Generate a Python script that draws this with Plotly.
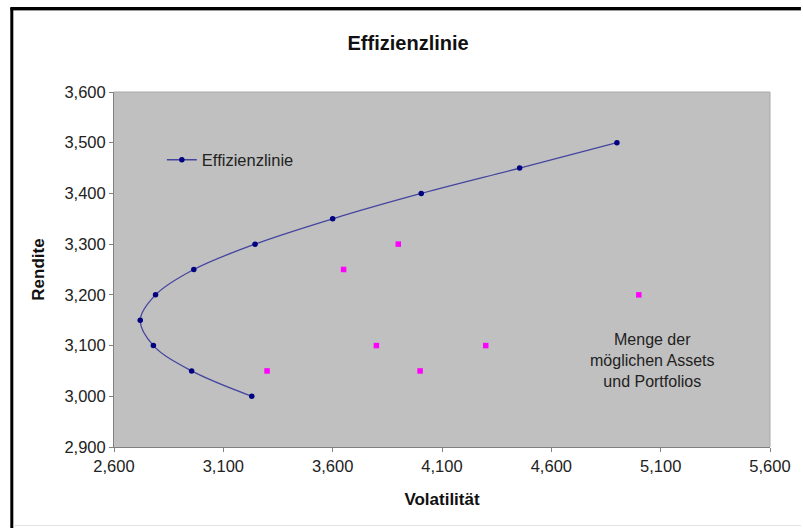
import plotly.graph_objects as go

# Efficient frontier (Volatilität, Rendite)
frontier_vol = [3.23, 2.955, 2.78, 2.72, 2.79, 2.965, 3.245, 3.60, 4.005, 4.455, 4.90]
frontier_ret = [3.00, 3.05, 3.10, 3.15, 3.20, 3.25, 3.30, 3.35, 3.40, 3.45, 3.50]

# Possible assets / portfolios
assets_vol = [3.30, 3.65, 3.90, 3.80, 4.00, 4.30, 5.00]
assets_ret = [3.05, 3.25, 3.30, 3.10, 3.05, 3.10, 3.20]

x_ticks = [2.6, 3.1, 3.6, 4.1, 4.6, 5.1, 5.6]
y_ticks = [2.9, 3.0, 3.1, 3.2, 3.3, 3.4, 3.5, 3.6]

FONT = "Liberation Sans, Arial, sans-serif"

fig = go.Figure()
fig.add_trace(go.Scatter(
    x=frontier_vol, y=frontier_ret, name="Effizienzlinie",
    mode="lines+markers",
    line=dict(color="#4545a0", width=1.3, shape="spline", smoothing=1.0),
    marker=dict(color="#000080", size=5.5, symbol="circle"),
))
fig.add_trace(go.Scatter(
    x=assets_vol, y=assets_ret, name="Assets", showlegend=False,
    mode="markers",
    marker=dict(color="#ff00ff", size=5.5, symbol="square"),
))

W, H = 803, 528
L, R, T, B = 114, 31, 92, 81
pw, ph = W - L - R, H - T - B


def px(x):
    return (x - L) / pw


def py(y):
    return (H - B - y) / ph


fig.update_layout(
    width=W, height=H,
    margin=dict(l=L, r=R, t=T, b=B),
    paper_bgcolor="white",
    plot_bgcolor="#c0c0c0",
    separators=",.",
    font=dict(family=FONT, size=16, color="#222222"),
    title=dict(text="<b>Effizienzlinie</b>", xref="paper", x=px(409), xanchor="center",
               yref="container", y=1 - 43 / H, yanchor="middle",
               font=dict(size=20, color="#111111", family=FONT)),
    showlegend=True,
    legend=dict(x=px(162), y=py(160), xanchor="left", yanchor="middle",
                bgcolor="rgba(0,0,0,0)", borderwidth=0,
                font=dict(size=16.5, color="#222222", family=FONT)),
    xaxis=dict(
        range=[2.6, 5.6], tickvals=x_ticks, tickformat=".3f",
        showgrid=False, zeroline=False,
        showline=True, linecolor="#808080", linewidth=1,
        ticks="outside", ticklen=4, tickcolor="#808080",
        tickfont=dict(size=16.5, color="#222222"),
        title=dict(text="<b>Volatilität</b>", font=dict(size=17, color="#111111"), standoff=19),
    ),
    yaxis=dict(
        range=[2.9, 3.6], tickvals=y_ticks, tickformat=".3f",
        showgrid=False, zeroline=False,
        showline=True, linecolor="#808080", linewidth=1,
        ticks="outside", ticklen=4, tickcolor="#808080",
        tickfont=dict(size=16.5, color="#222222"),
        title=dict(text="<b>Rendite</b>", font=dict(size=17, color="#111111"), standoff=15),
    ),
    annotations=[dict(
        x=px(654), y=py(360), xref="paper", yref="paper",
        xanchor="center", yanchor="middle",
        text="Menge der<br>möglichen Assets<br>und Portfolios",
        showarrow=False, align="center",
        font=dict(size=16, color="#222222", family=FONT),
    )],
    shapes=[
        # plot area border (top/right)
        dict(type="line", xref="paper", yref="paper", x0=0, x1=1, y0=1, y1=1,
             line=dict(color="#a8a8a8", width=1)),
        dict(type="line", xref="paper", yref="paper", x0=1, x1=1, y0=0, y1=1,
             line=dict(color="#a8a8a8", width=1)),
        # outer frame
        dict(type="line", xref="paper", yref="paper", x0=px(10), x1=px(803), y0=py(8.5), y1=py(8.5),
             line=dict(color="#000000", width=3)),
        dict(type="line", xref="paper", yref="paper", x0=px(10), x1=px(803), y0=py(10.5), y1=py(10.5),
             line=dict(color="#9a9a9a", width=1)),
        dict(type="line", xref="paper", yref="paper", x0=px(11.5), x1=px(11.5), y0=py(8), y1=py(528),
             line=dict(color="#000000", width=3)),
        dict(type="line", xref="paper", yref="paper", x0=px(13), x1=px(803), y0=py(525.5), y1=py(525.5),
             line=dict(color="#e2e2e2", width=1)),
    ],
)

fig.write_html("out.html")
